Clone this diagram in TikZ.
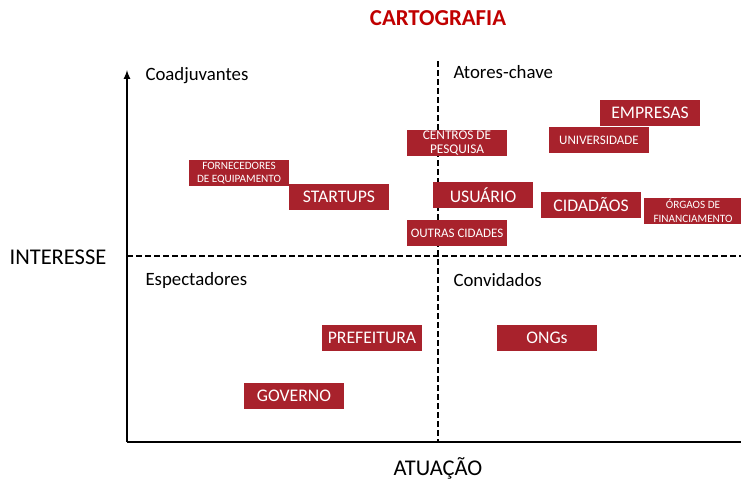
\documentclass[tikz,border=0pt]{standalone}
\usepackage{fontspec}
\setmainfont{Carlito}
\usepackage{tikz}
\definecolor{ator}{RGB}{168,34,44}
\definecolor{titulo}{RGB}{192,0,0}
\tikzset{
  ator/.style={fill=ator, text=white, minimum width=100pt, minimum height=26pt, inner sep=0pt, align=center},
  quadrante/.style={anchor=west, font=\fontsize{18.8}{20}\selectfont},
  divisa/.style={line width=1.6pt, dash pattern=on 6pt off 3pt},
  eixo/.style={line width=2pt}
}
\begin{document}
\begin{tikzpicture}[x=1pt,y=-1pt]
\useasboundingbox (0,0) rectangle (741,483);
\node at (438,18) (titulo) [text=titulo, font=\fontsize{22.8}{24}\selectfont\bfseries] {CARTOGRAFIA};
\coordinate (origem) at (127,442);
\coordinate (topo) at (127,70);
\coordinate (fim) at (741,442);
\draw[eixo,-latex] (origem) -- (topo);
\draw[eixo] (origem) -- (fim);
\coordinate (meio_alto) at (438,61);
\coordinate (meio_baixo) at (438,442);
\coordinate (meio_esq) at (127,256);
\coordinate (meio_dir) at (741,256);
\draw[divisa] (meio_alto) -- (meio_baixo);
\draw[divisa] (meio_esq) -- (meio_dir);
\node at (58,257) (interesse) [font=\fontsize{22.5}{24}\selectfont] {INTERESSE};
\node at (438,468) (atuacao) [font=\fontsize{22.5}{24}\selectfont] {ATUAÇÃO};
\node at (142,76) (coadjuvantes) [quadrante] {Coadjuvantes};
\node at (450,72) (atores) [quadrante] {Atores-chave};
\node at (142,280) (espectadores) [quadrante] {Espectadores};
\node at (450,280) (convidados) [quadrante] {Convidados};
\node at (650,113) (empresas) [ator, font=\fontsize{17.7}{19}\selectfont] {EMPRESAS};
\node at (599,140) (universidade) [ator, font=\fontsize{13}{14}\selectfont] {UNIVERSIDADE};
\node at (457,143) (centros) [ator, font=\fontsize{13.3}{13.5}\selectfont] {CENTROS DE\\PESQUISA};
\node at (239,173) (fornecedores) [ator, font=\fontsize{11.2}{13}\selectfont] {FORNECEDORES\\DE EQUIPAMENTO};
\node at (339,197) (startups) [ator, font=\fontsize{17.7}{19}\selectfont] {STARTUPS};
\node at (483,195) (usuario) [ator, font=\fontsize{17.7}{19}\selectfont] {USUÁRIO};
\node at (591,205) (cidadaos) [ator, font=\fontsize{17.7}{19}\selectfont] {CIDADÃOS};
\node at (693,211) (orgaos) [ator, minimum width=98pt, font=\fontsize{11.2}{13.5}\selectfont] {ÓRGAOS DE\\FINANCIAMENTO};
\node at (457,233) (outras) [ator, font=\fontsize{13}{14}\selectfont] {OUTRAS CIDADES};
\node at (372,338) (prefeitura) [ator, font=\fontsize{17.7}{19}\selectfont] {PREFEITURA};
\node at (547,338) (ongs) [ator, font=\fontsize{17.7}{19}\selectfont] {ONGs};
\node at (294,396) (governo) [ator, font=\fontsize{17.7}{19}\selectfont] {GOVERNO};
\end{tikzpicture}
\end{document}
